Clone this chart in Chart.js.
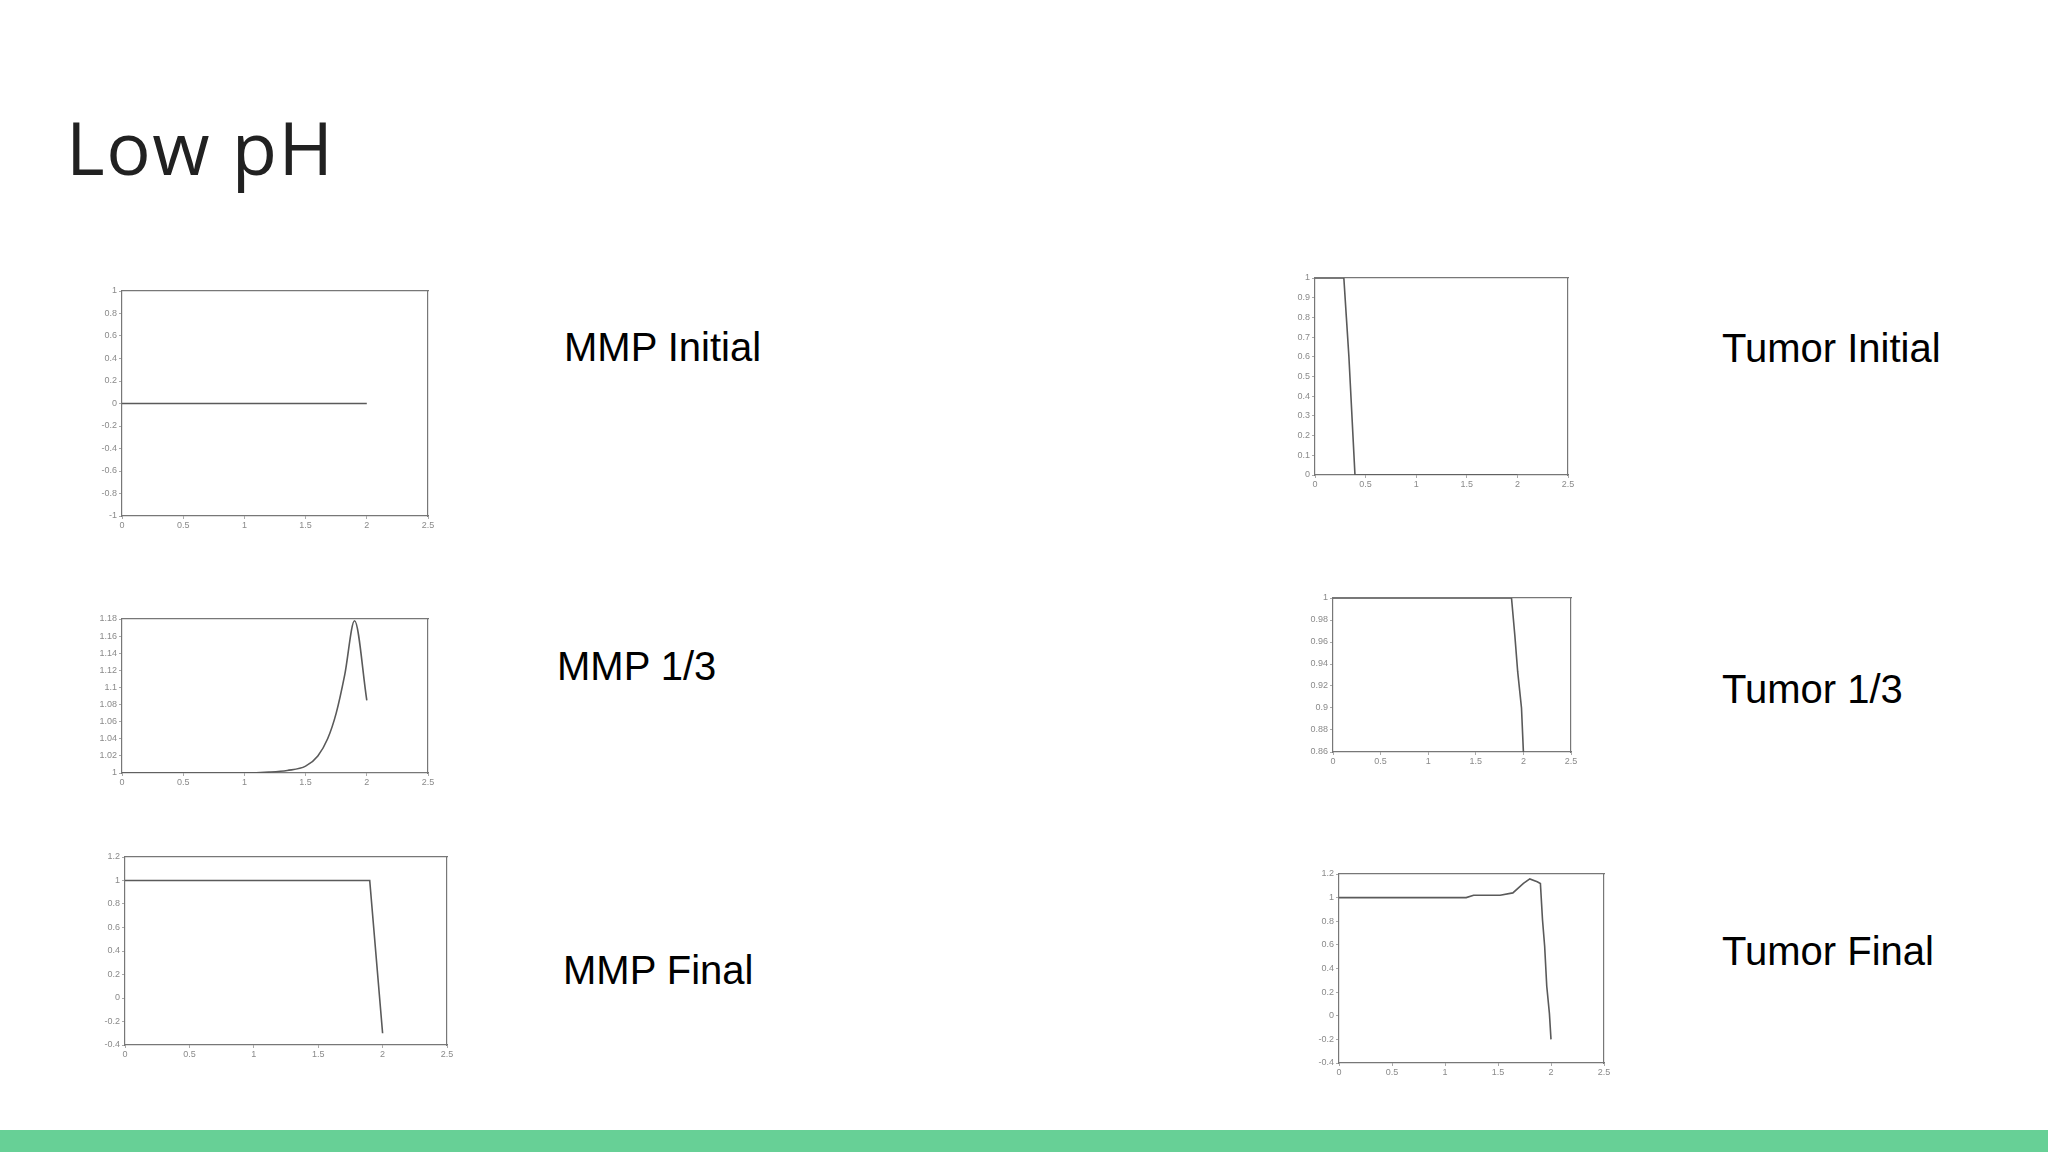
<!DOCTYPE html>
<html>
<head>
<meta charset="utf-8">
<script src="https://cdn.jsdelivr.net/npm/chart.js@4"></script>
<style>
  body { margin: 0; width: 2048px; height: 1152px; background: #fff; position: relative; overflow: hidden; }
  .title { position: absolute; left: 66px; top: 110px; font: 74px "Open Sans", sans-serif; letter-spacing: 1.5px; line-height: 1; color: #212121; }
  .lbl { position: absolute; font: 40px "Liberation Sans", Arial, sans-serif; line-height: 1; color: #000; white-space: nowrap; }
  .bar { position: absolute; left: 0; top: 1130px; width: 2048px; height: 22px; background: #67d096; }
  canvas { position: absolute; }
</style>
</head>
<body>
<div class="title">Low pH</div>
<div class="lbl" style="left:564px;top:327px">MMP Initial</div>
<div class="lbl" style="left:557px;top:646px">MMP 1/3</div>
<div class="lbl" style="left:563px;top:950px">MMP Final</div>
<div class="lbl" style="left:1722px;top:328px">Tumor Initial</div>
<div class="lbl" style="left:1722px;top:669px">Tumor 1/3</div>
<div class="lbl" style="left:1722px;top:931px">Tumor Final</div>
<div class="bar"></div>

<canvas id="mmpInit"></canvas>
<canvas id="mmpThird"></canvas>
<canvas id="mmpFinal"></canvas>
<canvas id="tumInit"></canvas>
<canvas id="tumThird"></canvas>
<canvas id="tumFinal"></canvas>

<script>
// x range is the same for every panel
const xTicks = [0, 0.5, 1, 1.5, 2, 2.5];

// MMP Initial
const mmpInitX = [0, 0.5, 1, 1.5, 2];
const mmpInitY = [0, 0, 0, 0, 0];

// MMP 1/3
const mmpThirdX = [0, 0.5, 1, 1.2, 1.35, 1.5, 1.6, 1.68, 1.75, 1.82, 1.9, 2.0];
const mmpThirdY = [1, 1, 1, 1.001, 1.003, 1.008, 1.02, 1.04, 1.07, 1.115, 1.178, 1.085];

// MMP Final
const mmpFinalX = [0, 0.5, 1, 1.5, 1.9, 2.0];
const mmpFinalY = [1, 1, 1, 1, 1, -0.3];

// Tumor Initial
const tumInitX = [0, 0.285, 0.31, 0.335, 0.36, 0.395, 1, 2];
const tumInitY = [1, 1, 0.8, 0.6, 0.35, 0, 0, 0];

// Tumor 1/3
const tumThirdX = [0, 1, 1.5, 1.875, 1.91, 1.94, 1.98, 2.0];
const tumThirdY = [1, 1, 1, 1, 0.966, 0.933, 0.9, 0.86];

// Tumor Final
const tumFinalX = [0, 0.5, 1, 1.2, 1.27, 1.52, 1.64, 1.74, 1.8, 1.87, 1.9, 1.92, 1.94, 1.96, 1.985, 2.0];
const tumFinalY = [1, 1, 1, 1, 1.02, 1.02, 1.04, 1.12, 1.158, 1.135, 1.12, 0.81, 0.59, 0.25, 0.02, -0.2];

// y axis ranges [min, max, step]
const mmpInitRange = [-1, 1, 0.2];
const mmpThirdRange = [1, 1.18, 0.02];
const mmpFinalRange = [-0.4, 1.2, 0.2];
const tumInitRange = [0, 1, 0.1];
const tumThirdRange = [0.86, 1, 0.02];
const tumFinalRange = [-0.4, 1.2, 0.2];

const LEFT = 30, BOTTOM = 16, TOP = 8, RIGHT = 12;
const tickFont = { family: 'Liberation Sans', size: 9 };
// matlab-style labels: 1 not 1.0, 0.9 not 0.90
const fmt = v => String(Number(Number(v).toFixed(3)));

function panel(id, plot, xs, ys, range, smooth) {
  const cv = document.getElementById(id);
  cv.width = plot.w + LEFT + RIGHT;
  cv.height = plot.h + TOP + BOTTOM;
  cv.style.left = (plot.x - LEFT) + 'px';
  cv.style.top = (plot.y - TOP) + 'px';

  const edge = { display: true, color: '#777', width: 1.2 };
  return new Chart(cv.getContext('2d'), {
    type: 'line',
    data: {
      datasets: [{
        data: xs.map((x, i) => ({ x: x, y: ys[i] })),
        borderColor: '#5a5a5a',
        borderWidth: 1.6,
        pointRadius: 0,
        fill: false,
        cubicInterpolationMode: smooth ? 'monotone' : 'default',
        tension: 0
      }]
    },
    options: {
      responsive: false,
      animation: false,
      layout: { padding: 0 },
      plugins: { legend: { display: false }, tooltip: { enabled: false } },
      scales: {
        x: {
          type: 'linear', position: 'bottom', min: 0, max: 2.5,
          afterBuildTicks: s => { s.ticks = xTicks.map(v => ({ value: v })); },
          ticks: { font: tickFont, color: '#8a8a8a', padding: 1, autoSkip: false, maxRotation: 0, callback: fmt },
          grid: { drawOnChartArea: false, tickLength: 3, color: '#aaa' },
          border: edge,
          afterFit: s => { s.height = BOTTOM; }
        },
        y: {
          type: 'linear', position: 'left', min: range[0], max: range[1],
          ticks: { stepSize: range[2], font: tickFont, color: '#8a8a8a', padding: 2, autoSkip: false, callback: fmt },
          grid: { drawOnChartArea: false, tickLength: 3, color: '#aaa' },
          border: edge,
          afterFit: s => { s.width = LEFT; }
        },
        x2: {
          type: 'linear', position: 'top', min: 0, max: 2.5,
          ticks: { display: false },
          grid: { display: false },
          border: edge,
          afterFit: s => { s.height = TOP; }
        },
        y2: {
          type: 'linear', position: 'right', min: range[0], max: range[1],
          ticks: { display: false },
          grid: { display: false },
          border: edge,
          afterFit: s => { s.width = RIGHT; }
        }
      }
    }
  });
}

panel('mmpInit',  { x: 122, y: 291, w: 306, h: 225 }, mmpInitX, mmpInitY, mmpInitRange, false);
panel('mmpThird', { x: 122, y: 619, w: 306, h: 154 }, mmpThirdX, mmpThirdY, mmpThirdRange, true);
panel('mmpFinal', { x: 125, y: 857, w: 322, h: 188 }, mmpFinalX, mmpFinalY, mmpFinalRange, false);
panel('tumInit',  { x: 1315, y: 278, w: 253, h: 197 }, tumInitX, tumInitY, tumInitRange, false);
panel('tumThird', { x: 1333, y: 598, w: 238, h: 154 }, tumThirdX, tumThirdY, tumThirdRange, false);
panel('tumFinal', { x: 1339, y: 874, w: 265, h: 189 }, tumFinalX, tumFinalY, tumFinalRange, false);
</script>
</body>
</html>
